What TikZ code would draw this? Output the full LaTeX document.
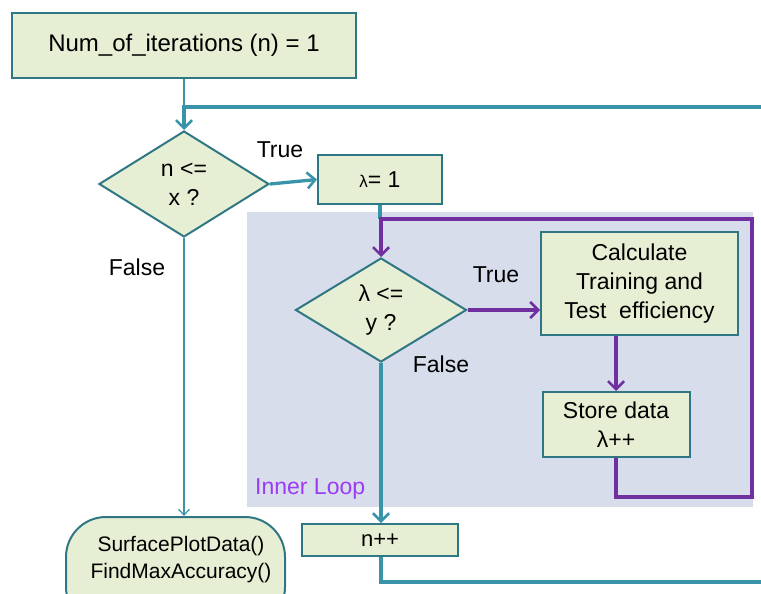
\documentclass[tikz,border=0pt]{standalone}
\usepackage{fontspec}
\setmainfont{Liberation Sans}
\usetikzlibrary{shapes.geometric,arrows.meta}
\definecolor{boxfill}{HTML}{E6EFD3}
\definecolor{boxline}{HTML}{2F7785}
\definecolor{flow}{HTML}{3994AA}
\definecolor{loopline}{HTML}{7030A0}
\definecolor{loopzone}{HTML}{D7DDEA}
\definecolor{looplabel}{HTML}{9B3BF5}
\tikzset{
  x=1pt, y=-1pt,
  every node/.style={font=\fontsize{23}{29}\selectfont, align=center, inner sep=0pt},
  procbox/.style={draw=boxline, fill=boxfill, line width=2pt, rectangle},
  decision/.style={draw=boxline, fill=boxfill, line width=2pt, diamond},
  tip/.style={-{Straight Barb[length=8pt,width=16pt,line width=2.6pt]}},
  flowline/.style={draw=flow, line width=3.3pt},
  thinflow/.style={draw=flow, line width=1.2pt},
  innerflow/.style={draw=loopline, line width=3.3pt},
  lbl/.style={font=\fontsize{23}{29}\selectfont},
}
\begin{document}
\begin{tikzpicture}
\useasboundingbox (0,0) rectangle (761,594);
\clip (0,0) rectangle (761,594);

% shaded inner-loop zone
\fill[loopzone] (247,212) rectangle (753,507);
\node[lbl, text=looplabel, anchor=west] (innerlbl) at (255,489) {Inner Loop};

% nodes
\node[procbox, minimum width=344pt, minimum height=65pt, font=\fontsize{24}{29}\selectfont] (start) at (184,45.5) {Num\_of\_iterations (n) = 1};
\node[decision, minimum width=170pt, minimum height=106pt] (d1) at (184,184) {n <=\\x ?};
\node[procbox, minimum width=124pt, minimum height=49pt] (lam) at (380,179.5) {{\fontsize{17}{20}\selectfont λ}= 1};
\node[decision, minimum width=171pt, minimum height=104pt] (d2) at (381,310) {λ <=\\y ?};
\node[procbox, minimum width=197pt, minimum height=103pt] (calc) at (639.5,283.5) {Calculate\\Training and\\Test\ \ efficiency};
\node[procbox, minimum width=147pt, minimum height=65pt] (store) at (616,424.5) {Store data\\λ++};
\node[procbox, minimum width=156pt, minimum height=32pt, font=\fontsize{22}{27}\selectfont] (npp) at (380,540) {n++};
\node[draw=boxline, fill=boxfill, line width=2pt, rounded corners=40pt,
      minimum width=219pt, minimum height=110pt] (surf) at (175.5,572) {};
\node[font=\fontsize{21}{27}\selectfont] (surftxt) at (181,560) {SurfacePlotData()\\FindMaxAccuracy()};

% branch labels
\node[lbl] (t1) at (280,150) {True};
\node[lbl] (f1) at (137,267) {False};
\node[lbl] (t2) at (496,275) {True};
\node[lbl] (f2) at (441,364) {False};

% loop corners
\coordinate (outTop) at (761,107);
\coordinate (outBot) at (761,582);
\coordinate (inTR) at (752,219);
\coordinate (inBR) at (752,497);

% outer loop
\draw[thinflow] (start.south) -- (start.south |- outTop);
\draw[flowline, tip] (outTop) -| (d1.north);
\draw[flowline, tip] (d1.east) -- (lam.west);
\draw[thinflow, -{Straight Barb[length=6pt,width=11pt,line width=1.2pt]}] (d1.south) -- (d1.south |- surf.north);
\draw[flowline] (lam.south) -- (lam.south |- inTR);
\draw[flowline, tip] (d2.south) -- (d2.south |- npp.north);
\draw[flowline] (npp.south -| d2.south) |- (outBot);

% inner loop
\draw[innerflow, tip] (d2.east) -- (calc.west |- d2.east);
\draw[innerflow, tip] (store.north |- calc.south) -- (store.north);
\draw[innerflow, tip] (store.south) |- (inBR) -- (inTR) -| (d2.north);
\end{tikzpicture}
\end{document}
